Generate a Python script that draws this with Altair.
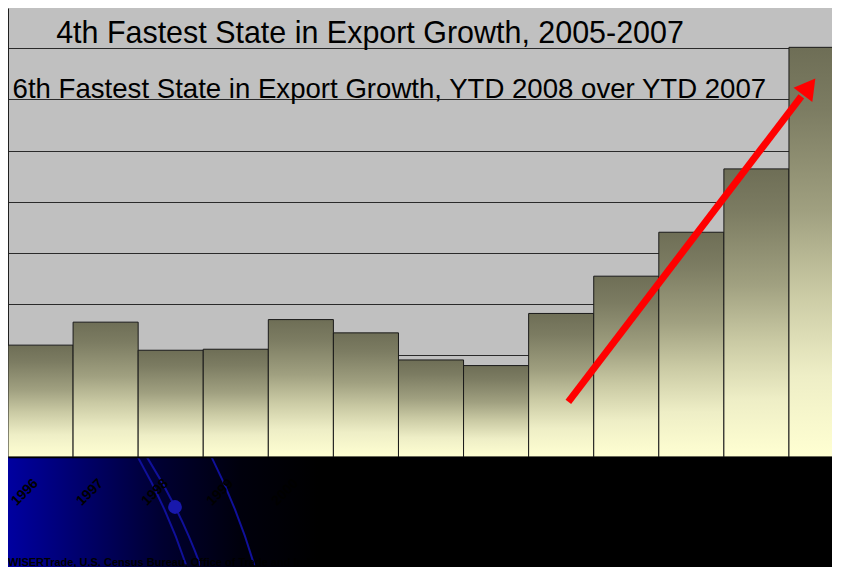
import altair as alt
import pandas as pd

# ---- data ----
years = ["1996", "1997", "1998", "1999", "2000", "2001", "2002",
         "2003", "2004", "2005", "2006", "2007", "2008"]
exports = [2.19, 2.64, 2.09, 2.11, 2.69, 2.43, 1.90,
           1.79, 2.81, 3.54, 4.40, 5.64, 8.02]

headlines = ["4th Fastest State in Export Growth, 2005-2007",
             "6th Fastest State in Export Growth, YTD 2008 over YTD 2007"]
headline_x = [0.74, 0.07]
headline_y = [8.10, 7.02]
headline_size = [30.45, 27.6]

arrow_x = [8.61, 12.19]
arrow_y = [1.08, 7.06]
arrow_head_x = [12.31]
arrow_head_y = [7.25]

source_note = "WISERTrade, U.S. Census Bureau, Office of Trade and Industry Information"

# ---- layout ----
W, H = 824, 449
X_MAX, Y_MAX = 824 / 65.08, 8.79

bars = pd.DataFrame({
    "year": years,
    "value": exports,
    "start": list(range(len(years))),
    "end": list(range(1, len(years) + 1)),
})
heads = pd.DataFrame({"text": headlines, "x": headline_x, "y": headline_y, "fs": headline_size})
arrow = pd.DataFrame({"x": arrow_x, "y": arrow_y})
head = pd.DataFrame({"x": arrow_head_x, "y": arrow_head_y})
one = pd.DataFrame({"k": [0]})

label_expr = "[" + ",".join("'%s'" % y for y in years) + "][floor(datum.value)]"

xscale = alt.Scale(domain=[0, X_MAX], nice=False, zero=False)
yscale = alt.Scale(domain=[0, Y_MAX], nice=False)

bar_fill = alt.Gradient(
    gradient="linear",
    stops=[
        alt.GradientStop(color="#6E6E56", offset=0),
        alt.GradientStop(color="#7C7C62", offset=0.15),
        alt.GradientStop(color="#A0A080", offset=0.4),
        alt.GradientStop(color="#CACAA4", offset=0.6),
        alt.GradientStop(color="#EEEEC6", offset=0.8),
        alt.GradientStop(color="#FFFFD2", offset=1),
    ],
    x1=0, x2=0, y1=0, y2=1,
)

blue_fill = alt.Gradient(
    gradient="linear",
    stops=[
        alt.GradientStop(color="#0000A0", offset=0),
        alt.GradientStop(color="#000068", offset=0.25),
        alt.GradientStop(color="#000030", offset=0.5),
        alt.GradientStop(color="#00000C", offset=0.75),
        alt.GradientStop(color="#000000", offset=1),
    ],
    x1=0, x2=1, y1=0.5, y2=0.5,
)

# background decoration (slide template)
glow = alt.Chart(one).mark_rect(fill=blue_fill).encode(
    x=alt.value(0), x2=alt.value(310), y=alt.value(H), y2=alt.value(559)
)

def orbit(cx, cy, r, t1, t2):
    return alt.Chart(one).mark_arc(
        fill="#10109A", radius=r + 1, radius2=r - 1, theta=t1, theta2=t2
    ).encode(x=alt.value(cx), y=alt.value(cy))

orbits = [
    orbit(-391, 747, 600, 1.051, 1.250),
    orbit(-338, 752, 565, 1.005, 1.220),
    orbit(-391, 747, 665, 1.106, 1.282),
]
ball = alt.Chart(one).mark_circle(size=190, color="#1818AC", opacity=1).encode(
    x=alt.value(167), y=alt.value(499)
)

bars_layer = alt.Chart(bars).mark_rect(
    fill=bar_fill, stroke="#1A1A1A", strokeWidth=1, clip=True
).encode(
    x=alt.X("start:Q", scale=xscale, title=None,
            axis=alt.Axis(values=[i + 0.5 for i in range(len(years))],
                          labelExpr=label_expr, labelAngle=-45,
                          labelAlign="right", labelBaseline="top",
                          labelFontWeight="bold", labelFontSize=14,
                          labelColor="#000000", labelFont="Liberation Sans",
                          labelPadding=19, labelOffset=-10,
                          labelOverlap=False, labelBound=False, labelFlush=False,
                          ticks=False, grid=False, zindex=1,
                          domainColor="#000000", domainWidth=1.5)),
    x2="end:Q",
    y=alt.Y("value:Q", scale=yscale, title=None,
            axis=alt.Axis(values=list(range(9)), labels=False, ticks=False,
                          grid=True, gridColor="#2A2A2A", gridWidth=1,
                          domainColor="#202020")),
    y2=alt.datum(0),
)

heads_layer = alt.Chart(heads).mark_text(
    align="left", baseline="alphabetic", font="Liberation Sans", color="#000000"
).encode(
    x=alt.X("x:Q", scale=xscale),
    y=alt.Y("y:Q", scale=yscale),
    text="text:N",
    size=alt.Size("fs:Q", scale=None),
)

arrow_line = alt.Chart(arrow).mark_line(
    color="#FF0000", strokeWidth=7, strokeCap="butt"
).encode(x=alt.X("x:Q", scale=xscale), y=alt.Y("y:Q", scale=yscale))

arrow_tip = alt.Chart(head).mark_point(
    shape="triangle-up", filled=True, size=560, color="#FF0000", opacity=1, angle=37.3
).encode(x=alt.X("x:Q", scale=xscale), y=alt.Y("y:Q", scale=yscale))

note = alt.Chart(one).mark_text(
    text=source_note, align="left", baseline="alphabetic", fontSize=11,
    fontWeight="bold", font="Liberation Sans", color="#000000"
).encode(x=alt.value(0), y=alt.value(558))

chart = alt.layer(
    glow, *orbits, ball, bars_layer, heads_layer, arrow_line, arrow_tip, note
).properties(
    width=W, height=H, padding=0, background="#000000",
    autosize=alt.AutoSizeParams(type="pad"),
).configure_view(fill="#C0C0C0", strokeWidth=0)

chart.save("out.html", embed_options={"renderer": "svg", "actions": False})
